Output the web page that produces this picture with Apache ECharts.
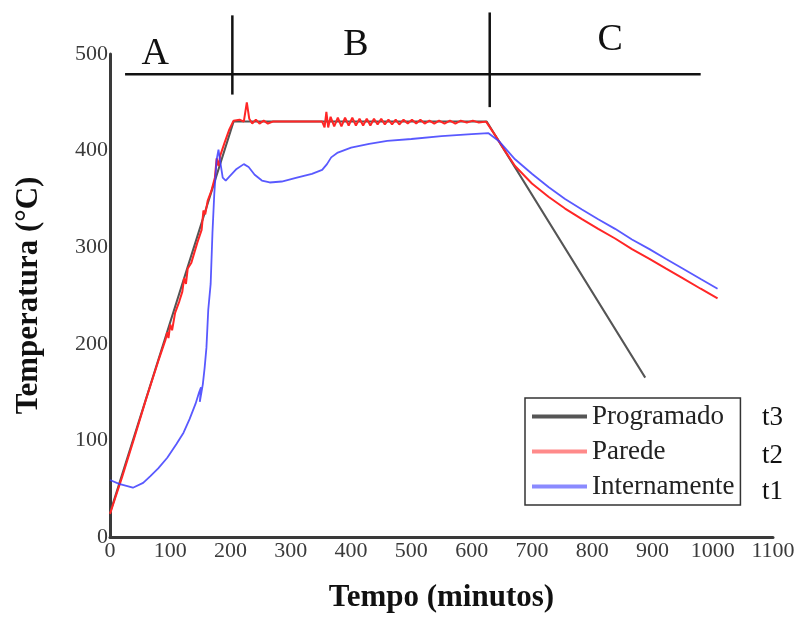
<!DOCTYPE html>
<html>
<head>
<meta charset="utf-8">
<script src="https://cdn.jsdelivr.net/npm/echarts@6/dist/echarts.min.js"></script>
<style>
  html, body { margin: 0; padding: 0; background: #fff; }
  #chart { width: 805px; height: 618px; }
</style>
</head>
<body>
<div id="chart"></div>
<script>
// tempo (min), temperatura (°C)
const programado = [[0, 25], [205, 430], [625, 430], [888, 165]]

const parede = [
  [0, 24], [20, 62], [40, 102], [60, 143], [80, 182], [92, 204], [95, 212], [97, 206], [100, 220],
  [103, 214], [108, 232], [115, 244], [120, 254], [123, 268], [126, 262], [129, 278], [135, 284],
  [145, 305], [152, 318], [155, 338], [158, 334], [162, 348], [168, 358], [174, 372], [177, 392],
  [180, 384], [183, 395], [190, 408], [198, 422], [205, 431], [215, 432], [222, 430], [227, 450],
  [231, 433], [236, 428], [242, 432], [248, 428], [255, 431], [262, 428], [270, 430], [300, 430],
  [340, 430], [352, 430], [356, 424], [359, 440], [362, 424], [366, 435], [372, 425], [378, 434],
  [384, 425], [390, 434], [396, 426], [402, 434], [408, 426], [414, 433], [420, 426], [426, 433],
  [432, 426], [438, 433], [444, 427], [450, 433], [456, 427], [462, 432], [468, 427], [474, 432],
  [480, 427], [487, 432], [494, 428], [501, 432], [508, 428], [515, 432], [522, 428], [530, 431],
  [538, 428], [546, 431], [555, 428], [564, 431], [573, 428], [582, 431], [592, 429], [602, 431],
  [612, 429], [624, 430], [640, 415], [655, 400], [672, 384], [700, 366], [728, 352], [755, 340],
  [783, 329], [810, 319], [838, 309], [866, 298], [895, 288], [922, 278], [950, 268], [980, 257],
  [1008, 247]
]

const internamente = [
  [0, 59], [15, 55], [38, 51], [55, 56], [67, 63], [80, 71], [95, 82], [110, 96], [122, 108],
  [132, 122], [142, 138], [148, 150], [151, 155], [149, 140], [151, 142], [154, 158], [157, 175],
  [160, 196], [163, 235], [167, 262], [170, 315], [173, 355], [177, 391], [180, 401], [183, 388],
  [187, 372], [192, 369], [198, 373], [210, 381], [222, 386], [230, 383], [240, 375], [252, 369],
  [265, 367], [285, 368], [310, 372], [335, 376], [352, 380], [360, 386], [367, 393], [378, 398],
  [400, 403], [430, 407], [460, 410], [500, 412], [550, 415], [600, 417], [628, 418], [645, 410],
  [672, 391], [700, 376], [728, 362], [755, 350], [783, 339], [810, 329], [838, 319], [866, 308],
  [895, 298], [922, 288], [950, 278], [980, 267], [1008, 257]
]

const xTicks = { min: 0, max: 1100, interval: 100 }
const yTicks = { min: 0, max: 500, interval: 100 }

// fases do processo: linhas e letras (em coordenadas de dados)
const faseLinha = [[25, 479], [980, 479]]
const faseDivisao = [[[203, 458], [203, 540]], [[630, 445], [630, 543]]]
const faseLetra = [['A', 75, 500], ['B', 408, 509], ['C', 830, 514]]
const legendaRotulo = [['t3', 418], ['t2', 456], ['t1', 492]]

const SERIF = '"Liberation Serif", "DejaVu Serif", serif'
const AXIS = '#3a3a3a'

const chart = echarts.init(document.getElementById('chart'))

chart.setOption({
  animation: false,
  grid: { left: 110, right: 32, top: 54, bottom: 77 },
  legend: {
    orient: 'vertical',
    left: 525, top: 398,
    padding: [5, 6, 5, 7],
    borderColor: '#333', borderWidth: 1.5,
    itemGap: 8,
    itemWidth: 55, itemHeight: 4,
    icon: 'rect',
    textStyle: { fontFamily: SERIF, fontSize: 27, color: '#222' },
    data: [
      { name: 'Programado', itemStyle: { color: '#555' } },
      { name: 'Parede', itemStyle: { color: '#ff8a8a' } },
      { name: 'Internamente', itemStyle: { color: '#8a8aff' } },
    ],
  },
  xAxis: {
    type: 'value', ...xTicks,
    name: 'Tempo (minutos)', nameLocation: 'middle', nameGap: 45,
    nameTextStyle: { fontFamily: SERIF, fontSize: 31, fontWeight: 'bold', color: '#111' },
    axisLine: { lineStyle: { color: AXIS, width: 3 } },
    axisTick: { show: false },
    splitLine: { show: false },
    axisLabel: { fontFamily: SERIF, fontSize: 22, color: '#3a3a3a', margin: 3, formatter: v => String(v) },
  },
  yAxis: {
    type: 'value', ...yTicks,
    name: 'Temperatura (°C)', nameLocation: 'middle', nameGap: 66,
    nameTextStyle: { fontFamily: SERIF, fontSize: 31, fontWeight: 'bold', color: '#111' },
    axisLine: { show: true, lineStyle: { color: AXIS, width: 3 } },
    axisTick: { show: false },
    splitLine: { show: false },
    axisLabel: { fontFamily: SERIF, fontSize: 22, color: '#3a3a3a', margin: 2, formatter: v => String(v) },
  },
  series: [
    { name: 'Programado', type: 'line', data: programado, showSymbol: false, z: 1,
      lineStyle: { color: '#555', width: 2 }, itemStyle: { color: '#555' } },
    { name: 'Parede', type: 'line', data: parede, showSymbol: false, z: 2,
      lineStyle: { color: '#ff2626', width: 2 }, itemStyle: { color: '#ff2626' } },
    { name: 'Internamente', type: 'line', data: internamente, showSymbol: false, z: 3,
      lineStyle: { color: '#3c3cff', width: 1.8, opacity: 0.85 }, itemStyle: { color: '#3c3cff' } },
  ],
})

function px(p) { return chart.convertToPixel({ gridIndex: 0 }, p) }

const linhas = [faseLinha, ...faseDivisao].map(seg => {
  const a = px(seg[0]), b = px(seg[1])
  return { type: 'line', shape: { x1: a[0], y1: a[1], x2: b[0], y2: b[1] },
    style: { stroke: '#111', lineWidth: 2.5 } }
})
const letras = faseLetra.map(([t, x, y]) => {
  const p = px([x, y])
  return { type: 'text', x: p[0], y: p[1],
    style: { text: t, fill: '#111', font: '38px ' + SERIF, align: 'center', verticalAlign: 'middle' } }
})
const rotulos = legendaRotulo.map(([t, y]) => ({
  type: 'text', x: 762, y: y,
  style: { text: t, fill: '#111', font: '27px ' + SERIF, align: 'left', verticalAlign: 'middle' }
}))

chart.setOption({ graphic: [...linhas, ...letras, ...rotulos] })
</script>
</body>
</html>
